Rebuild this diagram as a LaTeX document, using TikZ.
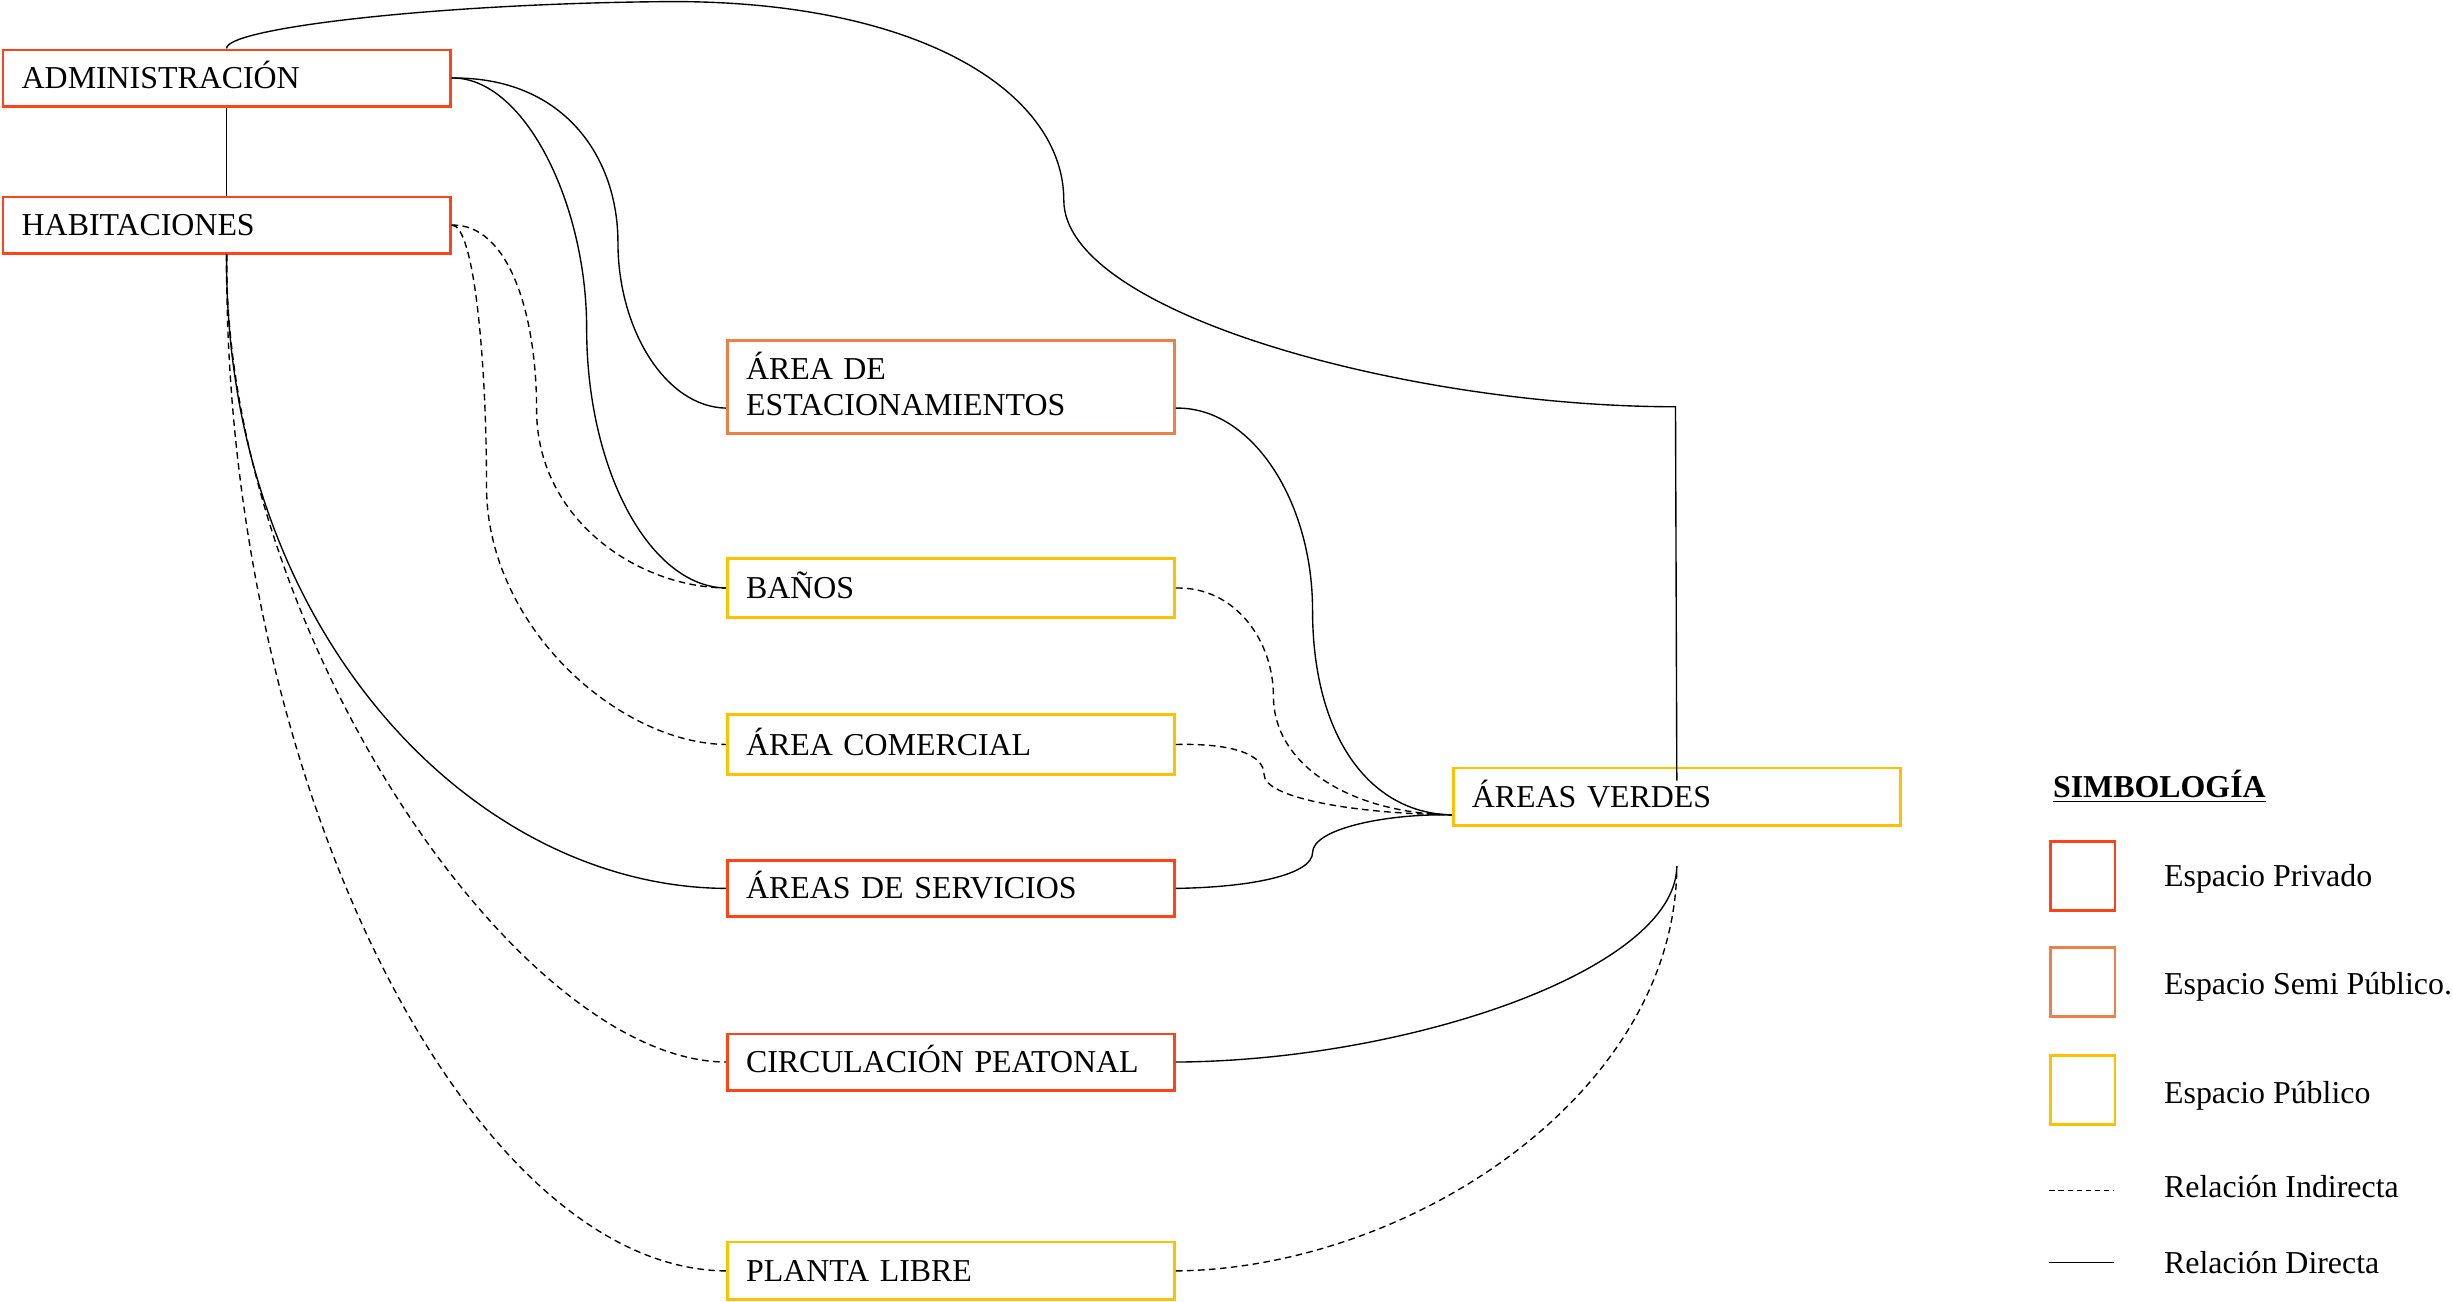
\documentclass[tikz,border=0pt]{standalone}
\usepackage{fontspec}
\setmainfont{Liberation Serif}
\usetikzlibrary{calc}
\definecolor{privado}{RGB}{255,69,23}
\definecolor{semipub}{RGB}{237,128,72}
\definecolor{publico}{RGB}{255,192,0}
\begin{document}
\begin{tikzpicture}[x=0.02cm,y=-0.02cm,
  box/.style={draw, line width=1pt, anchor=north west, minimum width=5.72cm,
    text width=5.24cm, inner xsep=0.24cm, inner ysep=0pt, align=left,
    text height=7.7pt, text depth=0pt,
    font=\fontsize{11.6}{13.3}\selectfont},
  twoline/.style={text depth=13.3pt},
  lbl/.style={anchor=base west, inner sep=0pt, font=\fontsize{11.6}{13.3}\selectfont},
  lsq/.style={draw, line width=1pt, anchor=north west, minimum width=0.82cm,
    minimum height=0.88cm, inner sep=0pt},
  rel/.style={line width=0.5pt},
  ind/.style={line width=0.5pt, dash pattern=on 2.4pt off 1.6pt}]
\useasboundingbox (0,0) rectangle (1568,832);

% boxes
\node[box, draw=privado, minimum height=0.72cm] (admin) at (1,31) {ADMINISTRACIÓN};
\node[box, draw=privado, minimum height=0.72cm] (habit) at (1,125) {HABITACIONES};
\node[box, twoline, draw=semipub, minimum height=1.18cm] (estac) at (464,217) {ÁREA DE\\ESTACIONAMIENTOS};
\node[box, draw=publico, minimum height=0.76cm] (banos) at (464,356) {BAÑOS};
\node[box, draw=publico, minimum height=0.76cm] (comer) at (464,456) {ÁREA COMERCIAL};
\node[box, draw=privado, minimum height=0.72cm] (serv) at (464,549) {ÁREAS DE SERVICIOS};
\node[box, draw=privado, minimum height=0.72cm] (circ) at (464,660) {CIRCULACIÓN PEATONAL};
\node[box, draw=publico, minimum height=0.74cm] (planta) at (464,793) {PLANTA LIBRE};
\node[box, draw=publico, minimum height=0.74cm] (verdes) at (928,490) {ÁREAS VERDES};

% connection points
\coordinate (estw) at ($(estac.west)+(0,13.5)$);
\coordinate (este) at ($(estac.east)+(0,13.5)$);
\coordinate (vw) at ($(verdes.west)+(0,11.5)$);
\coordinate (vtop) at ($(verdes.north)+(0,9)$);
\coordinate (vbot) at ($(verdes.south)+(0,25)$);

% connectors
\draw[rel] (admin.south) -- (habit.north);
\draw[rel] (admin.north) .. controls (144,18) and (280,2) .. (430,1)
  .. controls (590,1) and (680,60) .. (680,128)
  .. controls (680,200) and (900,260) .. (1071,260) -- (vtop);
\draw[rel] (admin.east) .. controls (360,49) and (395,100) .. (395,155)
  .. controls (395,210) and (425,260) .. (estw);
\draw[rel] (admin.east) .. controls (335,49) and (375,130) .. (375,210)
  .. controls (375,300) and (415,375) .. (banos.west);
\draw[ind] (habit.east) .. controls (325,143) and (343,200) .. (343,262)
  .. controls (343,330) and (405,375) .. (banos.west);
\draw[ind] (habit.east) .. controls (303,143) and (311,230) .. (311,311)
  .. controls (311,400) and (395,475) .. (comer.west);
\draw[rel] (habit.south) .. controls (143,400) and (300,567) .. (serv.west);
\draw[ind] (habit.south) .. controls (143,400) and (330,678) .. (circ.west);
\draw[ind] (habit.south) .. controls (143,500) and (300,811) .. (planta.west);
\draw[rel] (este) .. controls (800,260) and (839,320) .. (839,390)
  .. controls (839,470) and (875,520) .. (vw);
\draw[ind] (banos.east) .. controls (790,375) and (814,410) .. (814,445)
  .. controls (814,490) and (865,520) .. (vw);
\draw[ind] (comer.east) .. controls (790,475) and (808,483) .. (808,495)
  .. controls (808,510) and (865,520) .. (vw);
\draw[rel] (serv.east) .. controls (805,567) and (839,558) .. (839,545)
  .. controls (839,530) and (885,520) .. (vw);
\draw[rel] (circ.east) .. controls (900,678) and (1071,620) .. (vbot);
\draw[ind] (planta.east) .. controls (900,811) and (1071,700) .. (vbot);

% legend
\node[lbl] (simb) at (1312,509.6) {\underline{\textbf{SIMBOLOGÍA}}};
\node[lsq, draw=privado] (lpriv) at (1310,537) {};
\node[lsq, draw=semipub] (lsemi) at (1310,605) {};
\node[lsq, draw=publico] (lpub) at (1310,674) {};
\node[lbl] (tpriv) at (1383,566.8) {Espacio Privado};
\node[lbl] (tsemi) at (1383,635.4) {Espacio Semi Público.};
\node[lbl] (tpub) at (1383,705.1) {Espacio Público};
\coordinate (li1) at (1310,761);
\coordinate (li2) at (1351,761);
\coordinate (ld1) at (1310,807);
\coordinate (ld2) at (1351,807);
\draw[line width=0.5pt, dash pattern=on 2pt off 1.3pt] (li1) -- (li2);
\draw[rel] (ld1) -- (ld2);
\node[lbl] (tind) at (1383,765.3) {Relación Indirecta};
\node[lbl] (tdir) at (1383,814.3) {Relación Directa};
\end{tikzpicture}
\end{document}
